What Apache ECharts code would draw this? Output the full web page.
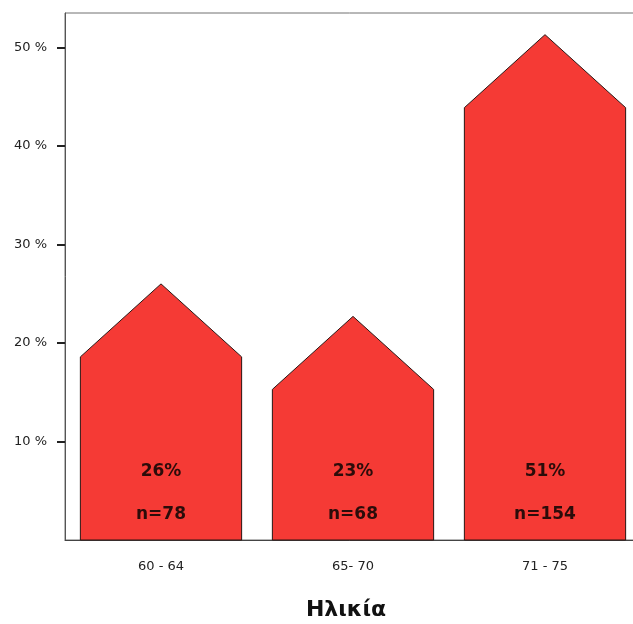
<!DOCTYPE html>
<html>
<head>
<meta charset="utf-8">
<script src="https://cdn.jsdelivr.net/npm/echarts@6/dist/echarts.min.js"></script>
<style>
  html, body { margin: 0; padding: 0; background: #fff; }
  #chart { width: 633px; height: 624px; }
</style>
</head>
<body>
<div id="chart"></div>
<script>
// Age groups, share of respondents (%) and group sizes
const categories = ['60 - 64', '65- 70', '71 - 75'];
const percents = [26, 22.7, 51.3];
const counts = [78, 68, 154];
const yTicks = [10, 20, 30, 40, 50];

const chart = echarts.init(document.getElementById('chart'));

const labelFont = 'bold 17px "DejaVu Sans", Verdana, sans-serif';

// House-shaped bar: rectangle with a pointed roof whose apex marks the value
function renderHouse(params, api) {
  const idx = api.value(0);
  const val = api.value(1);
  const n = api.value(2);
  const apex = api.coord([idx, val]);
  const base = api.coord([idx, 0]);
  const half = api.size([1, 0])[0] * 0.84 / 2;
  const roof = 73;
  const x = apex[0];
  const shoulderY = apex[1] + roof;
  return {
    type: 'group',
    children: [
      {
        type: 'polygon',
        shape: {
          points: [
            [x - half, base[1]],
            [x - half, shoulderY],
            [x, apex[1]],
            [x + half, shoulderY],
            [x + half, base[1]]
          ]
        },
        style: { fill: '#f53a35', stroke: '#2a1412', lineWidth: 1 }
      },
      {
        type: 'text',
        style: {
          text: Math.round(val) + '%',
          x: x, y: base[1] - 68,
          align: 'center', verticalAlign: 'middle',
          font: labelFont,
          fill: '#2b0c0a'
        }
      },
      {
        type: 'text',
        style: {
          text: 'n=' + n,
          x: x, y: base[1] - 25,
          align: 'center', verticalAlign: 'middle',
          font: labelFont,
          fill: '#2b0c0a'
        }
      }
    ]
  };
}

chart.setOption({
  animation: false,
  backgroundColor: '#ffffff',
  grid: {
    left: 65, top: 13, width: 576, height: 527,
    outerBoundsMode: 'none',
    containLabel: false,
    show: true, borderColor: '#707070', borderWidth: 1, backgroundColor: 'transparent'
  },
  title: {
    text: 'Ηλικία',
    left: 341, top: 594, textAlign: 'center',
    textStyle: { fontFamily: '"DejaVu Sans", sans-serif', fontWeight: 'bold', fontSize: 22, color: '#111' }
  },
  xAxis: {
    type: 'category',
    data: categories,
    boundaryGap: true,
    axisLine: { lineStyle: { color: '#444', width: 1 } },
    axisTick: { alignWithLabel: true, length: 7, lineStyle: { color: '#222', width: 2 } },
    axisLabel: { margin: 20, color: '#222', fontSize: 13, fontFamily: '"DejaVu Sans", Verdana, sans-serif' },
    splitLine: { show: false }
  },
  yAxis: {
    type: 'value',
    min: 0, max: 53.5,
    axisLine: { show: true, lineStyle: { color: '#555', width: 1 } },
    axisTick: { show: true, length: 8, customValues: yTicks, lineStyle: { color: '#222', width: 2 } },
    axisLabel: {
      customValues: yTicks,
      formatter: '{value} %',
      margin: 18, color: '#222', fontSize: 13,
      fontFamily: '"DejaVu Sans", Verdana, sans-serif'
    },
    splitLine: { show: false }
  },
  series: [{
    type: 'custom',
    renderItem: renderHouse,
    encode: { x: 0, y: 1 },
    data: categories.map((c, i) => [i, percents[i], counts[i]])
  }]
});
</script>
</body>
</html>
